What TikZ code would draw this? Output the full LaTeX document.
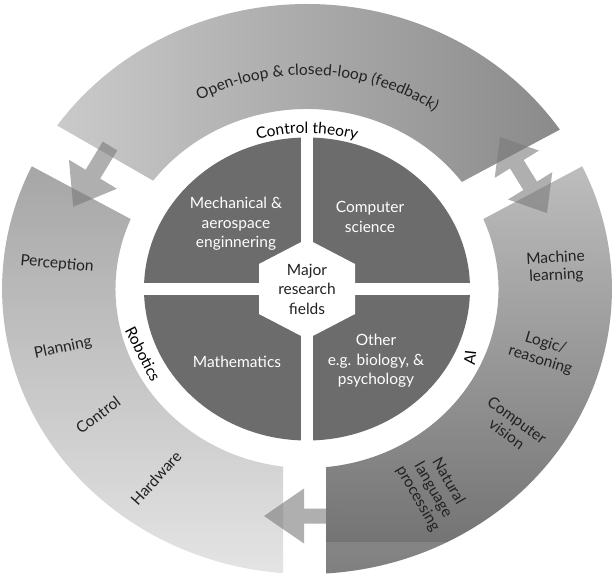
\documentclass[tikz,border=0pt]{standalone}
\usepackage{fontspec}
\setmainfont{Lato}
\usetikzlibrary{decorations.text}
\definecolor{topL}{HTML}{CACACA}
\definecolor{topR}{HTML}{8A8A8A}
\definecolor{leftT}{HTML}{A6A6A6}
\definecolor{leftB}{HTML}{E4E4E4}
\definecolor{rightT}{HTML}{BDBDBD}
\definecolor{rightB}{HTML}{6E6E6E}
\definecolor{quadc}{HTML}{6C6C6C}
\definecolor{arrowc}{HTML}{7A7A7A}
\definecolor{labc}{HTML}{222222}
\tikzset{
  arrowshape/.style={fill=arrowc, fill opacity=0.6},
  lab/.style={font=\fontsize{15.5}{17.5}\selectfont, text=labc, align=center, inner sep=0pt},
  ringlab/.style={font=\fontsize{15.5}{17.5}\selectfont, text=black, align=center, inner sep=0pt},
  qlab/.style={font=\fontsize{15.5}{19.5}\selectfont, text=white, align=center, inner sep=0pt},
}
\begin{document}
\begin{tikzpicture}[x=1pt,y=1pt]
\useasboundingbox (0,0) rectangle (615,578);
\fill[white] (0,0) rectangle (615,578);
\coordinate (C) at (307,289);
\def\rightarc{(25.5:285) arc[start angle=25.5,end angle=-86.4,radius=285] -- (-84.3:179) arc[start angle=-84.3,end angle=23,radius=179] -- cycle}
\begin{scope}[shift={(C)}, xscale=1.07]
  % top arc (control theory)
  \shade[left color=topL, right color=topR]
    (34:285) arc[start angle=34,end angle=145,radius=285] -- (143:180) arc[start angle=143,end angle=36.5,radius=180] -- cycle;
  % left arc (robotics)
  \shade[top color=leftT, bottom color=leftB]
    (154.5:285) arc[start angle=154.5,end angle=265.5,radius=285] -- (262.8:179) arc[start angle=262.8,end angle=157,radius=179] -- cycle;
  % right arc (AI)
  \shade[top color=rightT, bottom color=rightB] \rightarc;
  \begin{scope}
    \clip \rightarc;
    \fill[white, fill opacity=0.12] (17,-289) rectangle (135,-253);
  \end{scope}
\end{scope}
% block arrows
\coordinate (a1) at (110,432);
\coordinate (a2) at (500,441);
\coordinate (a3) at (340,62);
\begin{scope}[shift={(a1)}, rotate=-121.2]
  \fill[arrowshape] (0,-8.5) -- (33,-8.5) -- (33,-28) -- (71,0) -- (33,28) -- (33,8.5) -- (0,8.5) -- cycle;
\end{scope}
\begin{scope}[shift={(a2)}, rotate=-58.3]
  \fill[arrowshape] (0,0) -- (32,26) -- (32,8) -- (57.4,8) -- (57.4,26) -- (89.4,0) -- (57.4,-26) -- (57.4,-8) -- (32,-8) -- (32,-26) -- cycle;
\end{scope}
\begin{scope}[shift={(a3)}, rotate=180]
  \fill[arrowshape] (0,-7.5) -- (36,-7.5) -- (36,-27.5) -- (76,0) -- (36,27.5) -- (36,7.5) -- (0,7.5) -- cycle;
\end{scope}
% inner disc with quadrants
\begin{scope}[shift={(C)}]
  \fill[quadc] (0,0) ellipse[x radius=163, y radius=151.5];
  \fill[white] (-6.3,-160) rectangle (6.3,160);
  \fill[white] (-170,-5.8) rectangle (170,5.8);
  \fill[white] (0,50) -- (48,25) -- (48,-25) -- (0,-50) -- (-48,-25) -- (-48,25) -- cycle;
\end{scope}
% curved texts
\path[decorate, decoration={text along path, text align=center,
  text={|\fontsize{15.5}{17}\selectfont\color{labc}|Open-loop {\&} closed-loop (feedback)}}]
  (C) ++(150:228 and 214) arc[start angle=150,end angle=24,x radius=228,y radius=214];
\path[decorate, decoration={text along path, text align=center,
  text={|\fontsize{15.5}{17}\selectfont\color{black}|Control theory}}]
  (C) ++(130:168 and 156) arc[start angle=130,end angle=50,x radius=168,y radius=156];
% ring labels
\node[ringlab, rotate=-63] (rob) at (143,224) {Robotics};
\node[ringlab, rotate=84] (ai) at (470,220) {AI};
% robotics labels
\node[lab, rotate=-5] (perc) at (57,314) {Perception};
\node[lab, rotate=12] (plan) at (63,230) {Planning};
\node[lab, rotate=37] (ctrl) at (98,163) {Control};
\node[lab, rotate=48] (hw) at (156,100) {Hardware};
% AI labels
\node[lab, rotate=3] (ml) at (556,311) {Machine\\learning};
\node[lab, rotate=-17] (logic) at (543,226) {Logic/\\reasoning};
\node[lab, rotate=-36] (cv) at (512,151) {Computer\\vision};
\node[lab, rotate=-60] (nlp) at (433,88) {Natural\\language\\processing};
% quadrant labels
\node[qlab] (mech) at (236,354) {Mechanical \&\\aerospace\\enginnering};
\node[qlab] (cs) at (370,361) {Computer\\science};
\node[qlab] (math) at (237,216) {Mathematics};
\node[qlab] (other) at (376,217) {Other\\e.g. biology, \&\\psychology};
\node[qlab, text=labc] (major) at (307,289) {Major\\research\\fields};
\end{tikzpicture}
\end{document}
